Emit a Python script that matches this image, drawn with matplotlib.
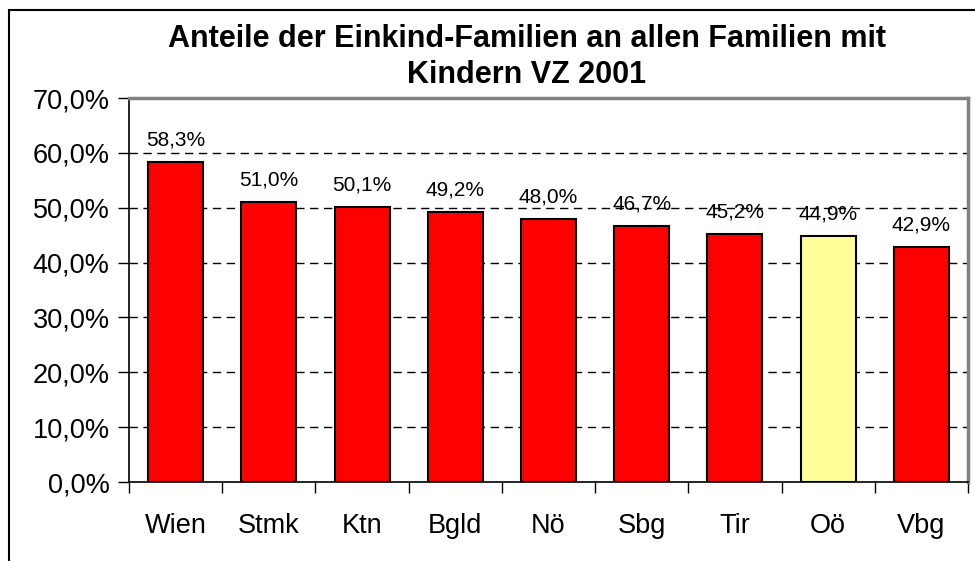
import matplotlib
matplotlib.use("Agg")
import matplotlib.pyplot as plt
from matplotlib.patches import Rectangle

categories = ["Wien", "Stmk", "Ktn", "Bgld", "Nö", "Sbg", "Tir", "Oö", "Vbg"]
values = [58.3, 51.0, 50.1, 49.2, 48.0, 46.7, 45.2, 44.9, 42.9]
colors = ["#FF0000", "#FF0000", "#FF0000", "#FF0000", "#FF0000",
          "#FF0000", "#FF0000", "#FFFF99", "#FF0000"]
yticks = [0, 10, 20, 30, 40, 50, 60, 70]
title_lines = ["Anteile der Einkind-Familien an allen Familien mit", "Kindern VZ 2001"]

plt.rcParams['font.family'] = ['Liberation Sans', 'DejaVu Sans']

fig = plt.figure(figsize=(9.75, 5.61), dpi=100)
fig.patch.set_facecolor("white")
ax = fig.add_axes([129/975, 1-482/561, (968-129)/975, (482-98)/561])

x = list(range(len(categories)))
ax.bar(x, values, width=0.59, color=colors, edgecolor="black", linewidth=1.5, zorder=3)

for xi, v in zip(x, values):
    ax.annotate(f"{v:.1f}%".replace(".", ","), (xi, v), xytext=(0, 9),
                textcoords="offset points", ha="center", va="bottom", fontsize=15)

ax.set_xlim(-0.5, len(categories) - 0.5)
ax.set_ylim(0, 70)
ax.set_yticks(yticks)
ax.set_yticklabels([f"{t:.1f}%".replace(".", ",") for t in yticks], fontsize=19.5)
ax.set_xticks(x)
ax.set_xticklabels(categories, fontsize=19.5)
ax.tick_params(axis="x", length=0, pad=22)
ax.tick_params(axis="y", length=8, width=1, direction="out", pad=6)
ax.set_xticks([i - 0.5 for i in range(len(categories) + 1)], minor=True)
ax.tick_params(axis="x", which="minor", length=8, width=1, direction="out", color="black")

for t in yticks[1:-1]:
    ax.axhline(t, color="black", linestyle=(0, (6, 4)), linewidth=1, zorder=1)

ax.spines["left"].set_color("black")
ax.spines["bottom"].set_color("black")
ax.spines["left"].set_linewidth(1.2)
ax.spines["bottom"].set_linewidth(1.2)
ax.spines["top"].set_color("#808080")
ax.spines["right"].set_color("#808080")
ax.spines["top"].set_linewidth(2.5)
ax.spines["right"].set_linewidth(2.5)

fig.text(527/975, 1-47/561, title_lines[0], ha="center", va="baseline", fontsize=22,
         fontweight="bold")
fig.text(527/975, 1-83/561, title_lines[1], ha="center", va="baseline", fontsize=22,
         fontweight="bold")

frame = Rectangle((9/975, -0.1), 1.2, 1-10/561 + 0.1, transform=fig.transFigure,
                  fill=False, edgecolor="black", linewidth=1.5, clip_on=False)
fig.patches.append(frame)

fig.savefig("out.png", dpi=100)
